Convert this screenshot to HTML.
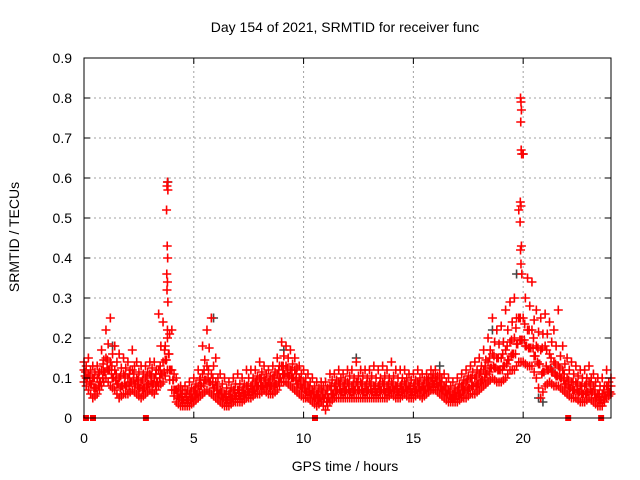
<!DOCTYPE html>
<html><head><meta charset="utf-8"><style>
html,body{margin:0;padding:0;background:#fff;}
svg{display:block;font-family:"Liberation Sans",sans-serif;}
</style></head><body>
<svg id="chart" width="640" height="480" viewBox="0 0 640 480">
<rect width="640" height="480" fill="#fff"/>
<g id="grid"></g>
<g id="marks"></g>
<rect x="84" y="58" width="527" height="360" fill="none" stroke="#000" stroke-width="1"/>
<g id="ticks"></g>
<text x="345" y="32" text-anchor="middle" font-size="14">Day 154 of 2021, SRMTID for receiver func</text>
<text x="345" y="471" text-anchor="middle" font-size="14">GPS time / hours</text>
<text transform="translate(19,237) rotate(-90)" text-anchor="middle" font-size="14">SRMTID / TECUs</text>
</svg>
<script>
const xTicks=[0,5,10,15,20];
const yTicks=[0,0.1,0.2,0.3,0.4,0.5,0.6,0.7,0.8,0.9];
const yTickLabels=["0","0.1","0.2","0.3","0.4","0.5","0.6","0.7","0.8","0.9"];
const tStart=0, tStep=0.2;
const midV=[.12,.11,.10,.10,.12,.15,.14,.12,.10,.11,.10,.12,.10,.09,.10,.11,.10,.12,.14,.20,.12,.07,.06,.06,.06,.07,.08,.11,.13,.11,.09,.07,.06,.06,.07,.07,.07,.08,.08,.09,.10,.10,.09,.10,.11,.13,.13,.12,.12,.10,.09,.08,.07,.06,.07,.06,.08,.08,.09,.08,.09,.08,.09,.09,.08,.09,.08,.08,.09,.08,.09,.08,.08,.09,.08,.08,.09,.08,.09,.10,.10,.09,.08,.07,.06,.07,.08,.09,.10,.10,.11,.12,.14,.16,.15,.15,.17,.19,.20,.25,.25,.22,.22,.18,.17,.18,.16,.14,.13,.12,.10,.09,.09,.08,.08,.09,.08,.06,.06,.08,.08];
const loV=[.09,.07,.05,.06,.08,.10,.08,.07,.05,.06,.06,.07,.06,.05,.06,.07,.06,.08,.09,.12,.07,.04,.03,.03,.03,.04,.05,.06,.07,.06,.05,.04,.03,.03,.04,.04,.04,.05,.05,.06,.06,.07,.06,.06,.07,.09,.09,.08,.07,.06,.05,.05,.04,.03,.04,.02,.04,.05,.05,.05,.05,.05,.05,.05,.05,.05,.05,.05,.05,.05,.06,.05,.05,.06,.05,.05,.06,.05,.06,.07,.07,.06,.05,.04,.04,.04,.05,.05,.06,.06,.07,.08,.09,.10,.09,.09,.10,.12,.12,.14,.14,.13,.13,.10,.05,.08,.09,.08,.08,.07,.06,.05,.05,.04,.04,.05,.04,.03,.03,.05,.06];
const hiV=[.14,.15,.13,.13,.17,.22,.25,.18,.16,.15,.14,.17,.14,.13,.13,.14,.14,.26,.24,.22,.22,.10,.08,.08,.09,.10,.12,.18,.22,.25,.15,.11,.10,.09,.10,.11,.10,.12,.12,.12,.14,.13,.12,.13,.15,.19,.18,.17,.15,.13,.12,.11,.10,.09,.09,.09,.11,.11,.12,.11,.12,.12,.14,.12,.12,.12,.13,.12,.13,.12,.14,.12,.12,.12,.11,.11,.12,.11,.11,.12,.12,.11,.11,.10,.09,.10,.11,.12,.13,.14,.15,.17,.20,.25,.22,.23,.27,.29,.30,.52,.66,.35,.34,.27,.25,.26,.24,.22,.27,.18,.15,.14,.13,.12,.12,.13,.11,.10,.10,.12,.10];
const spikeT=[3.78,3.80,3.82,3.76,3.79,3.81,3.77,3.80,3.78,3.82,19.88,19.90,19.92,19.89,19.91,19.93,19.87,19.90,19.86,19.92,19.88,19.94];
const spikeV=[.58,.59,.57,.52,.43,.40,.36,.34,.32,.29,.80,.79,.77,.74,.67,.66,.54,.53,.49,.43,.42,.36];
const blackT=[3.82,5.9,9.1,12.4,16.2,19.7,20.0,20.7,20.9,21.3,1.3,18.6];
const blackV=[.59,.25,.17,.15,.13,.36,.66,.05,.04,.12,.18,.22];
const zeroT=[0.09,0.41,2.82,10.52,22.05,23.55];

const X0=84,X1=611,Y0=418,Y1=58;
const xs=t=>X0+(t/24)*(X1-X0);
const ys=v=>Y0-(v/0.9)*(Y0-Y1);
const NS="http://www.w3.org/2000/svg";
const grid=document.getElementById('grid'),ticks=document.getElementById('ticks'),marks=document.getElementById('marks');
function mk(tag,attrs,parent){const e=document.createElementNS(NS,tag);for(const k in attrs)e.setAttribute(k,attrs[k]);parent.appendChild(e);return e;}
xTicks.forEach(t=>{const x=xs(t);
 if(t>0){const g=mk('line',{x1:x,x2:x,y1:Y0,y2:Y1,stroke:'#a0a0a0','stroke-dasharray':'2,3'},grid);
 
 }
 const a=mk('line',{x1:x,x2:x,y1:Y0,y2:Y0-6,stroke:'#000'},ticks);
 
 
 const b=mk('line',{x1:x,x2:x,y1:Y1,y2:Y1+6,stroke:'#000'},ticks);
 
 
 const l=mk('text',{x:x,y:443,'text-anchor':'middle','font-size':'14'},ticks);l.textContent=String(t);
 
 
});
yTicks.forEach((v,i)=>{const y=ys(v);
 if(v>0){const g=mk('line',{x1:X0,x2:X1,y1:y,y2:y,stroke:'#a0a0a0','stroke-dasharray':'2,3'},grid);
 
 }
 const a=mk('line',{x1:X0,x2:X0+6,y1:y,y2:y,stroke:'#000'},ticks);
 
 
 const b=mk('line',{x1:X1,x2:X1-6,y1:y,y2:y,stroke:'#000'},ticks);
 
 
 const l=mk('text',{x:72,y:y+5,'text-anchor':'end','font-size':'14'},ticks);l.textContent=yTickLabels[i];
 
 
});
function plus(t,v,col){const x=xs(t),y=ys(v);
 const p=mk('path',{d:`M${x-4.5},${y}h9M${x},${y-4.5}v9`,stroke:col,'stroke-width':'1.6',fill:'none'},marks);
 
 }
blackT.forEach((t,i)=>plus(t,blackV[i],'#444'));
[loV,midV,hiV].forEach(arr=>arr.forEach((v,i)=>plus(tStart+i*tStep,v,'#ff0000')));
loV.forEach((v,i)=>{if(i<loV.length-1){
 plus(tStart+i*tStep+0.1,(v+midV[i+1])/2,'#ff0000');
 plus(tStart+i*tStep+0.05,(v+midV[i])/2,'#ff0000');
 plus(tStart+i*tStep+0.1,(v+loV[i+1])/2,'#ff0000');}});
hiV.forEach((v,i)=>{if(i<hiV.length-1){
 plus(tStart+i*tStep+0.1,(midV[i]+Math.min(v,hiV[i+1]))/2,'#ff0000');
 plus(tStart+i*tStep+0.15,(midV[i+1]+loV[i])/2,'#ff0000');
 plus(tStart+i*tStep+0.07,(midV[i]+midV[i+1])/2,'#ff0000');}});
spikeT.forEach((t,i)=>plus(t,spikeV[i],'#ff0000'));
zeroT.forEach(t=>{const r=mk('rect',{x:xs(t)-3,y:Y0-3,width:6,height:6,fill:'#ff0000'},marks);
 
 });
</script>
</body></html>
